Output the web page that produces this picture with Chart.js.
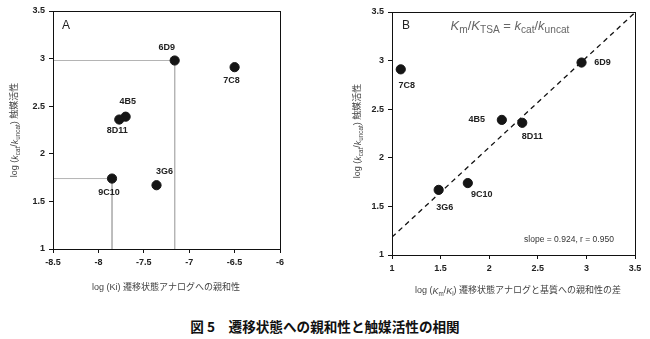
<!DOCTYPE html>
<html>
<head>
<meta charset="utf-8">
<title>遷移状態への親和性と触媒活性の相関</title>
<script src="https://cdn.jsdelivr.net/npm/chart.js"></script>
<style>
  body { margin: 0; background: #fff; width: 650px; height: 339px; position: relative; overflow: hidden; }
  #chartA { position: absolute; left: 0; top: 0; }
  #chartB { position: absolute; left: 325px; top: 0; }
  #caption { position: absolute; left: 0; width: 650px; top: 316px; text-align: center;
             font: bold 13.6px "Noto Sans CJK JP", sans-serif; color: #111; }
</style>
</head>
<body>
<canvas id="chartA" width="310" height="305"></canvas>
<canvas id="chartB" width="325" height="305"></canvas>
<div id="caption">図 5　遷移状態への親和性と触媒活性の相関</div>

<script>
// antibodies and their measured values
const antibodies = ['6D9', '7C8', '4B5', '8D11', '9C10', '3G6'];
const logRate = [2.98, 2.91, 2.39, 2.36, 1.74, 1.67];        // log(kcat/kuncat)
const logKi = [-7.16, -6.50, -7.70, -7.77, -7.85, -7.36];    // log(Ki)
const logKmKi = [2.95, 1.09, 2.13, 2.34, 1.78, 1.48];        // log(Km/Ki)

// fit shown in panel B
const fitSlope = 0.924;
const fitIntercept = 0.26;
const fitR = 0.950;

// tick labels
const yTicks = [1, 1.5, 2, 2.5, 3, 3.5];
const xTicksA = [-8.5, -8, -7.5, -7, -6.5, -6];
const xTicksB = [1, 1.5, 2, 2.5, 3, 3.5];

// guide lines in panel A go to these antibodies
const guideA = ['6D9', '9C10'];

// where each name sits relative to its point (px)
const labelOffsetA = [[-8, -13], [-3, 13], [2, -15], [-2, 11], [-3, 14], [8, -14]];
const labelOffsetB = [[21, 0], [6, 16], [-25, 0], [10, 14], [14, 11], [6, 18]];

const FONT = '"Liberation Sans", "Noto Sans CJK JP", sans-serif';

// draw a line of text made of plain / italic / subscript pieces, centred on (x, y)
function richText(ctx, parts, x, y, size, color, rotate, subScale) {
  subScale = subScale || 0.7;
  ctx.save();
  ctx.translate(x, y);
  if (rotate) ctx.rotate(-Math.PI / 2);
  ctx.fillStyle = color;
  ctx.textBaseline = 'middle';
  const fontOf = p => (p.i ? 'italic ' : '') + (p.s ? size * subScale : size) + 'px ' + FONT;
  let w = 0;
  parts.forEach(p => { ctx.font = fontOf(p); w += ctx.measureText(p.t).width; });
  let cx = -w / 2;
  ctx.textAlign = 'left';
  parts.forEach(p => {
    ctx.font = fontOf(p);
    ctx.fillText(p.t, cx, p.s ? size * 0.32 : 0);
    cx += ctx.measureText(p.t).width;
  });
  ctx.restore();
}

const rateTitle = [
  { t: 'log (' }, { t: 'k', i: true }, { t: 'cat', s: true }, { t: '/' },
  { t: 'k', i: true }, { t: 'uncat', s: true }, { t: ') 触媒活性' }
];

// box around the plot + names next to the points + extra text
function makeDecor(offsets, extra) {
  return {
    id: 'decor',
    afterDatasetsDraw(chart) {
      const ctx = chart.ctx;
      const a = chart.chartArea;
      ctx.save();
      ctx.strokeStyle = '#111';
      ctx.lineWidth = 1;
      ctx.strokeRect(Math.round(a.left) + 0.5, Math.round(a.top) + 0.5,
                     Math.round(a.right - a.left), Math.round(a.bottom - a.top));

      const meta = chart.getDatasetMeta(0);
      ctx.font = 'bold 9px ' + FONT;
      ctx.fillStyle = '#222';
      ctx.textAlign = 'center';
      ctx.textBaseline = 'middle';
      meta.data.forEach((pt, i) => {
        ctx.fillText(antibodies[i], pt.x + offsets[i][0], pt.y + offsets[i][1]);
      });
      ctx.restore();
      extra(chart, ctx);
    }
  };
}

function axisOptions(min, max, ticks, fixedSize) {
  return {
    type: 'linear',
    min: min,
    max: max,
    afterBuildTicks: s => { s.ticks = ticks.map(v => ({ value: v })); },
    afterFit: fixedSize,
    grid: { display: true, drawOnChartArea: false, color: '#111', tickLength: 4, tickColor: '#111' },
    border: { display: true, color: '#111' },
    ticks: {
      color: '#222',
      padding: 4,
      font: { family: FONT, size: 9, weight: 'bold' },
      callback: v => String(v)
    }
  };
}

const baseOptions = {
  responsive: false,
  animation: false,
  devicePixelRatio: 1,
  plugins: { legend: { display: false }, tooltip: { enabled: false } }
};

// ---------- panel A ----------
const pointsA = antibodies.map((n, i) => ({ x: logKi[i], y: logRate[i] }));
const guideSets = guideA.map(name => {
  const i = antibodies.indexOf(name);
  return {
    data: [{ x: xTicksA[0], y: logRate[i] }, { x: logKi[i], y: logRate[i] }, { x: logKi[i], y: yTicks[0] }],
    showLine: true,
    borderColor: '#b4b4b4',
    borderWidth: 1,
    pointRadius: 0,
    order: 2
  };
});

new Chart(document.getElementById('chartA'), {
  type: 'scatter',
  data: {
    datasets: [
      { data: pointsA, backgroundColor: '#151515', borderColor: '#151515', pointRadius: 4.6, order: 1 },
      ...guideSets
    ]
  },
  options: Object.assign({}, baseOptions, {
    layout: { padding: { top: 11, right: 30, left: 0, bottom: 0 } },
    scales: {
      x: axisOptions(-8.5, -6, xTicksA, s => { s.height = 56; }),
      y: axisOptions(1, 3.5, yTicks, s => { s.width = 53; })
    }
  }),
  plugins: [makeDecor(labelOffsetA, (chart, ctx) => {
    ctx.save();
    ctx.fillStyle = '#222';
    ctx.font = '12px ' + FONT;
    ctx.textAlign = 'center';
    ctx.textBaseline = 'middle';
    ctx.fillText('A', 66, 26);
    ctx.restore();
    richText(ctx, rateTitle, 15, 130, 9, '#444', true);
    richText(ctx, [{ t: 'log (Ki) 遷移状態アナログへの親和性' }], 166, 288, 9, '#444', false);
  })]
});

// ---------- panel B ----------
const pointsB = antibodies.map((n, i) => ({ x: logKmKi[i], y: logRate[i] }));
const fitLine = [xTicksB[0], xTicksB[xTicksB.length - 1]].map(x => ({ x: x, y: fitSlope * x + fitIntercept }));

new Chart(document.getElementById('chartB'), {
  type: 'scatter',
  data: {
    datasets: [
      { data: pointsB, backgroundColor: '#151515', borderColor: '#151515', pointRadius: 4.6, order: 1 },
      { data: fitLine, showLine: true, borderColor: '#111', borderWidth: 1.3, borderDash: [5, 4],
        pointRadius: 0, order: 2 }
    ]
  },
  options: Object.assign({}, baseOptions, {
    layout: { padding: { top: 12, right: 15, left: 0, bottom: 0 } },
    scales: {
      x: axisOptions(1, 3.5, xTicksB, s => { s.height = 50; }),
      y: axisOptions(1, 3.5, yTicks, s => { s.width = 67; })
    }
  }),
  plugins: [makeDecor(labelOffsetB, (chart, ctx) => {
    ctx.save();
    ctx.fillStyle = '#222';
    ctx.font = '12px ' + FONT;
    ctx.textAlign = 'center';
    ctx.textBaseline = 'middle';
    ctx.fillText('B', 81, 26);
    ctx.font = '8.5px ' + FONT;
    ctx.fillStyle = '#333';
    ctx.fillText('slope = ' + fitSlope.toFixed(3) + ', r = ' + fitR.toFixed(3), 244, 240);
    ctx.restore();
    richText(ctx, [
      { t: 'K', i: true }, { t: 'm', s: true }, { t: '/' }, { t: 'K', i: true }, { t: 'TSA', s: true },
      { t: ' = ' }, { t: 'k', i: true }, { t: 'cat', s: true }, { t: '/' }, { t: 'k', i: true }, { t: 'uncat', s: true }
    ], 185, 26, 13, '#666', false, 0.78);
    richText(ctx, rateTitle, 33, 131, 9, '#444', true);
    richText(ctx, [
      { t: 'log (' }, { t: 'K', i: true }, { t: 'm', s: true }, { t: '/' }, { t: 'K', i: true }, { t: 'i', s: true },
      { t: ') 遷移状態アナログと基質への親和性の差' }
    ], 193, 291, 9, '#444', false);
  })]
});
</script>
</body>
</html>
